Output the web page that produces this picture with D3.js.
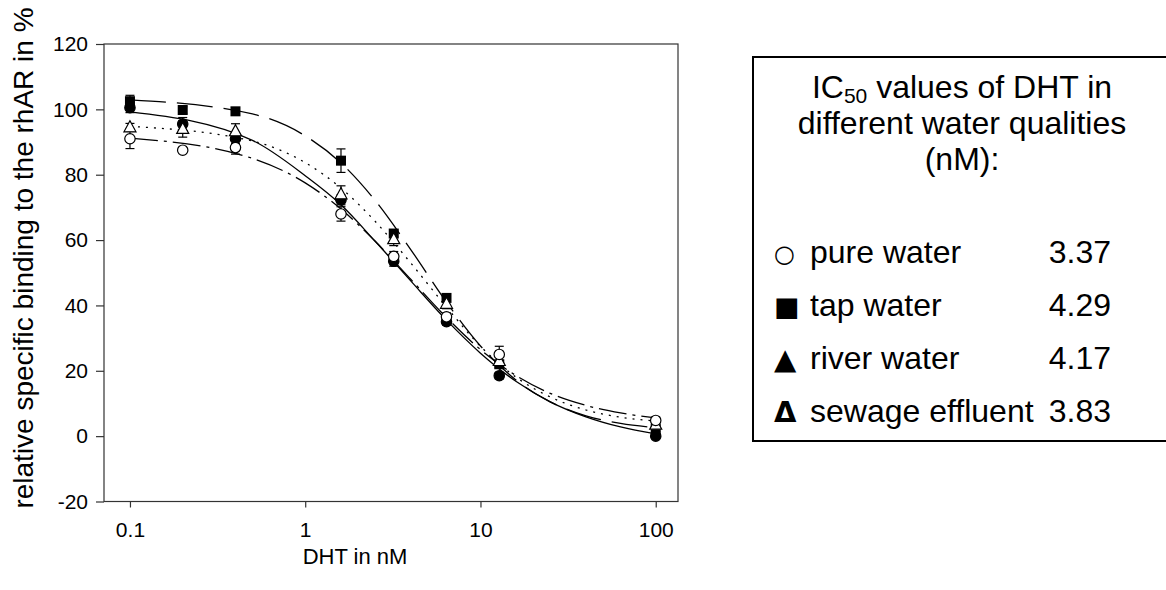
<!DOCTYPE html>
<html>
<head>
<meta charset="utf-8">
<script src="https://cdn.jsdelivr.net/npm/d3@7"></script>
<style>
  body { margin: 0; background: #fff; }
  svg text { font-family: "Liberation Sans", Arial, sans-serif; fill: #000; }
</style>
</head>
<body>
<div id="chart"></div>
<script>
// measured doses (nM)
const doses = [0.1, 0.2, 0.4, 1.6, 3.2, 6.4, 12.8, 100];

// mean binding in % and error
const pureMean   = [91.0, 87.5, 88.3, 68.0, 55.0, 36.5, 25.0, 4.8];
const pureErr    = [3.0, 0.8, 2.0, 2.2, 1.5, 1.2, 2.5, 1.0];
const tapMean    = [102.5, 99.8, 99.4, 84.3, 62.0, 42.3, 22.0, 2.2];
const tapErr     = [1.8, 1.0, 1.0, 3.6, 1.0, 1.0, 1.0, 0.8];
const riverMean  = [100.5, 95.5, 91.0, 72.3, 53.5, 35.0, 18.5, 0.0];
const riverErr   = [1.5, 2.0, 1.5, 1.5, 1.5, 1.0, 1.0, 0.8];
const sewageMean = [94.5, 94.0, 93.3, 74.0, 60.3, 40.5, 23.0, 3.5];
const sewageErr  = [1.2, 2.5, 2.3, 2.6, 2.0, 1.5, 1.5, 1.0];

// fitted curves
const curveDoses = [0.1, 0.5, 1, 1.6, 2.5, 4, 6.4, 10, 16, 25, 40, 63, 100];
const pureFit    = [91.2, 85.0, 77.5, 69.5, 59.7, 48.0, 36.3, 26.5, 18.5, 13.1, 9.4, 7.1, 5.6];
const tapFit     = [102.9, 98.6, 91.9, 83.6, 72.2, 57.1, 41.0, 27.6, 17.1, 10.5, 6.2, 3.9, 2.6];
const riverFit   = [99.2, 90.5, 79.7, 70.8, 59.7, 47.5, 35.5, 25.4, 16.7, 10.5, 5.9, 2.8, 0.7];
const sewageFit  = [94.8, 90.3, 83.7, 75.9, 65.8, 53.0, 39.5, 27.5, 18.0, 12.0, 8.0, 5.8, 4.6];

const yTicks = [-20, 0, 20, 40, 60, 80, 100, 120];
const xTicks = [0.1, 1, 10, 100];
const xTickLabels = ["0.1", "1", "10", "100"];

const legendTitle = ["values of DHT in", "different water qualities", "(nM):"];
const legendNames = ["pure water", "tap water", "river water", "sewage effluent"];
const legendGlyphs = ["\u25CB", "\u25A0", "\u25B2", "\u0394"];
const legendValues = ["3.37", "4.29", "4.17", "3.83"];

var W = 1166, H = 590;
var plot = {left: 104, right: 678, top: 44, bottom: 501.5};

var svg = d3.select("#chart").append("svg")
  .attr("width", W).attr("height", H);

var x = d3.scaleLog()
  .domain([0.0711, 134])
  .range([plot.left, plot.right]);
var y = d3.scaleLinear()
  .domain([-20, 120])
  .range([plot.bottom, plot.top]);

// frame
svg.append("rect")
  .attr("x", plot.left).attr("y", plot.top)
  .attr("width", plot.right - plot.left)
  .attr("height", plot.bottom - plot.top)
  .attr("fill", "none").attr("stroke", "#333").attr("stroke-width", 1.2);

// y axis (plain hyphen for negatives, like the original)
var yAxis = svg.append("g")
  .attr("transform", "translate(" + plot.left + ",0)")
  .call(d3.axisLeft(y).tickValues(yTicks).tickSize(8).tickPadding(8)
    .tickFormat(function(d) { return String(d); }));
yAxis.select(".domain").remove();
yAxis.selectAll("line").attr("stroke", "#333").attr("stroke-width", 1.2);
yAxis.selectAll("text").style("font-size", "21px").style("font-family", "Liberation Sans, Arial, sans-serif");

// x axis
var xAxis = svg.append("g")
  .attr("transform", "translate(0," + plot.bottom + ")")
  .call(d3.axisBottom(x).tickValues(xTicks).tickSize(6).tickPadding(15)
    .tickFormat(function(d, i) { return xTickLabels[i]; }));
xAxis.select(".domain").remove();
xAxis.selectAll("line").attr("stroke", "#333").attr("stroke-width", 1.2);
xAxis.selectAll("text").style("font-size", "21px").style("font-family", "Liberation Sans, Arial, sans-serif");

// axis titles
svg.append("text")
  .attr("x", 355).attr("y", 564)
  .attr("text-anchor", "middle")
  .style("font-size", "22px")
  .text("DHT in nM");

svg.append("text")
  .attr("transform", "translate(33,258) rotate(-90)")
  .attr("text-anchor", "middle")
  .style("font-size", "28px")
  .text("relative specific binding to the rhAR in %");

// series
var series = [
  {mean: riverMean, err: riverErr, fit: riverFit, dash: null, marker: "fcircle"},
  {mean: tapMean, err: tapErr, fit: tapFit, dash: "36,11", marker: "square"},
  {mean: sewageMean, err: sewageErr, fit: sewageFit, dash: "2,6", marker: "triangle"},
  {mean: pureMean, err: pureErr, fit: pureFit, dash: "28,6,3,6", marker: "ocircle"}
];

var line = d3.line()
  .x(function(d) { return x(d[0]); })
  .y(function(d) { return y(d[1]); })
  .curve(d3.curveMonotoneX);

series.forEach(function(s) {
  svg.append("path")
    .datum(curveDoses.map(function(c, i) { return [c, s.fit[i]]; }))
    .attr("d", line)
    .attr("fill", "none")
    .attr("stroke", "#000")
    .attr("stroke-width", 1.3)
    .attr("stroke-dasharray", s.dash);
});

// error bars
series.forEach(function(s) {
  var g = svg.append("g").attr("stroke", "#000").attr("stroke-width", 1.2);
  doses.forEach(function(d, i) {
    var cx = x(d), lo = y(s.mean[i] - s.err[i]), hi = y(s.mean[i] + s.err[i]);
    g.append("line").attr("x1", cx).attr("x2", cx).attr("y1", lo).attr("y2", hi);
    g.append("line").attr("x1", cx - 4.5).attr("x2", cx + 4.5).attr("y1", lo).attr("y2", lo);
    g.append("line").attr("x1", cx - 4.5).attr("x2", cx + 4.5).attr("y1", hi).attr("y2", hi);
  });
});

// markers
series.forEach(function(s) {
  var g = svg.append("g");
  doses.forEach(function(d, i) {
    var cx = x(d), cy = y(s.mean[i]);
    if (s.marker === "fcircle" || s.marker === "ocircle") {
      g.append("circle").attr("cx", cx).attr("cy", cy).attr("r", 5.2)
        .attr("fill", s.marker === "fcircle" ? "#000" : "#fff")
        .attr("stroke", "#000").attr("stroke-width", 1.2);
    } else if (s.marker === "square") {
      g.append("rect").attr("x", cx - 5).attr("y", cy - 5).attr("width", 10).attr("height", 10)
        .attr("fill", "#000");
    } else {
      g.append("path")
        .attr("d", "M" + cx + "," + (cy - 6.5) + "L" + (cx + 6) + "," + (cy + 4.5) + "L" + (cx - 6) + "," + (cy + 4.5) + "Z")
        .attr("fill", "#fff").attr("stroke", "#000").attr("stroke-width", 1.2);
    }
  });
});

// legend box
var lg = svg.append("g");
lg.append("rect")
  .attr("x", 753).attr("y", 57).attr("width", 430).attr("height", 384)
  .attr("fill", "#fff").attr("stroke", "#000").attr("stroke-width", 2);

var t1 = lg.append("text").attr("x", 962).attr("y", 98)
  .attr("text-anchor", "middle").style("font-size", "32px");
t1.append("tspan").text("IC");
t1.append("tspan").attr("dy", 5).style("font-size", "21px").text("50");
t1.append("tspan").attr("dy", -5).text(" " + legendTitle[0]);
lg.append("text").attr("x", 962).attr("y", 134)
  .attr("text-anchor", "middle").style("font-size", "32px").text(legendTitle[1]);
lg.append("text").attr("x", 962).attr("y", 170)
  .attr("text-anchor", "middle").style("font-size", "32px").text(legendTitle[2]);

var rowY = [263, 316, 369, 422];
var glyphSize = ["24px", "27px", "29px", "29px"];
legendNames.forEach(function(n, i) {
  lg.append("text").attr("x", 774).attr("y", rowY[i] - (i === 0 ? 1 : 0))
    .style("font-family", "DejaVu Sans, sans-serif")
    .style("font-size", glyphSize[i])
    .style("font-weight", i === 3 ? "bold" : "normal")
    .text(legendGlyphs[i]);
  lg.append("text").attr("x", 810).attr("y", rowY[i])
    .style("font-size", "32px").text(n);
  lg.append("text").attr("x", 1111).attr("y", rowY[i])
    .attr("text-anchor", "end").style("font-size", "32px").text(legendValues[i]);
});
</script>
</body>
</html>
